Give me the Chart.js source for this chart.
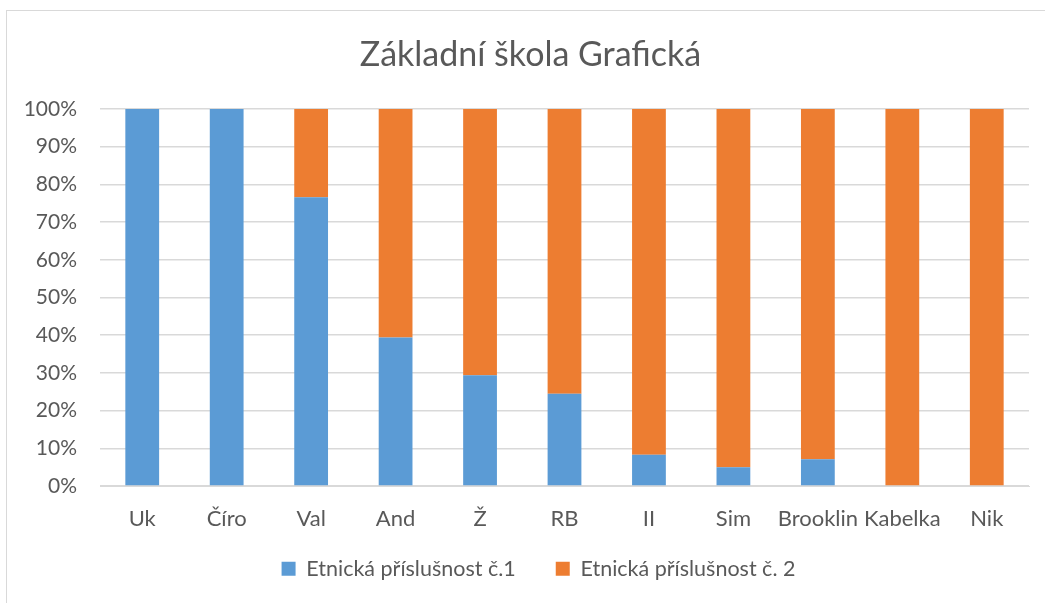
<!DOCTYPE html>
<html>
<head>
<meta charset="utf-8">
<script src="https://cdn.jsdelivr.net/npm/chart.js@4"></script>
<style>
html,body{margin:0;padding:0;background:#fff;}
#wrap{position:relative;width:1045px;height:603px;}
</style>
</head>
<body>
<div id="wrap"><canvas id="c" width="1045" height="603"></canvas></div>
<script>
const categories = ["Uk","Číro","Val","And","Ž","RB","II","Sim","Brooklin","Kabelka","Nik"];
const series1Name = "Etnická příslušnost č.1";
const series2Name = "Etnická příslušnost č. 2";
const series1 = [100, 100, 76.6, 39.4, 29.4, 24.5, 8.3, 5.0, 7.1, 0, 0];
const series2 = [0, 0, 23.4, 60.6, 70.6, 75.5, 91.7, 95.0, 92.9, 100, 100];
const yTicks = [0,10,20,30,40,50,60,70,80,90,100];
const titleText = "Základní škola Grafická";

const FONT = "Lato, 'Open Sans', sans-serif";
const borderPlugin = {
  id: 'outerBorder',
  beforeDraw(chart){
    const ctx = chart.ctx;
    ctx.save();
    ctx.fillStyle = '#fff';
    ctx.fillRect(0,0,chart.width,chart.height);
    ctx.strokeStyle = '#d9d9d9';
    ctx.lineWidth = 1;
    ctx.strokeRect(6.5, 10.5, 1100, 700);
    ctx.restore();
  },
  afterLayout(chart){
    const lg = chart.legend;
    if (lg) { const h = lg.bottom - lg.top; lg.top = 518; lg.bottom = 518 + h; lg.left += 24; lg.right += 24; }
    const tb = chart.titleBlock;
    if (tb) { tb.left += 16; tb.right += 16; }
  }
};

new Chart(document.getElementById('c'), {
  type: 'bar',
  data: {
    labels: categories,
    datasets: [
      {label: series1Name, data: series1, backgroundColor: '#5B9BD5', barPercentage: 0.4, categoryPercentage: 1},
      {label: series2Name, data: series2, backgroundColor: '#ED7D31', barPercentage: 0.4, categoryPercentage: 1}
    ]
  },
  options: {
    responsive: false,
    animation: false,
    layout: {padding: {left: 0, right: 16, top: 0, bottom: 0}},
    plugins: {
      title: {
        display: true, text: titleText, color: '#595959',
        font: {family: FONT, size: 34, weight: 'normal', lineHeight: 1.2},
        padding: {top: 34.6, bottom: 33.6}
      },
      legend: {
        position: 'bottom',
        maxHeight: 67,
        labels: {
          color: '#595959', boxWidth: 14, boxHeight: 14, padding: 40,
          font: {family: FONT, size: 21.5}
        }
      },
      tooltip: {enabled: false}
    },
    scales: {
      x: {
        stacked: true,
        grid: {display: false, drawTicks: false},
        border: {display: true, color: '#d9d9d9'},
        ticks: {color: '#595959', padding: 20, autoSkip: false, maxRotation: 0, minRotation: 0, font: {family: FONT, size: 22}},
        afterFit(s){ s.height = 50; }
      },
      y: {
        stacked: true, min: 0, max: 100,
        afterBuildTicks(s){ s.ticks = yTicks.map(v => ({value: v})); },
        grid: {color: '#d9d9d9', drawTicks: false, lineWidth: 1.5},
        border: {display: false},
        ticks: {color: '#595959', padding: 23, font: {family: FONT, size: 21}, callback: v => v + '%'},
        afterFit(s){ s.width = 100; }
      }
    }
  },
  plugins: [borderPlugin]
});
</script>
</body>
</html>
